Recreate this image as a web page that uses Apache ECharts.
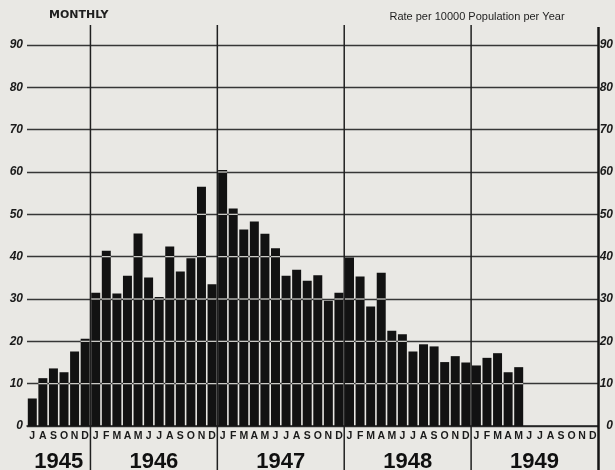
<!DOCTYPE html>
<html>
<head>
<meta charset="utf-8">
<script src="https://cdn.jsdelivr.net/npm/echarts@6/dist/echarts.min.js"></script>
<style>
  html, body { margin: 0; padding: 0; background: #e9e8e4; }
  #chart { width: 615px; height: 470px; }
</style>
</head>
<body>
<div id="chart"></div>
<script>
// Monthly rate per 10000 population per year, July 1945 – December 1949
const years = ['1945', '1946', '1947', '1948', '1949'];
const monthLetters = ['J', 'F', 'M', 'A', 'M', 'J', 'J', 'A', 'S', 'O', 'N', 'D'];
const firstMonth = 6; // series starts in July 1945

const rates = [
  // 1945 (Jul–Dec)
  6.5, 11.3, 13.6, 12.7, 17.6, 20.6,
  // 1946
  31.5, 41.4, 31.3, 35.5, 45.5, 35.1, 30.5, 42.4, 36.5, 39.6, 56.5, 33.5,
  // 1947
  60.5, 51.4, 46.4, 48.3, 45.4, 42.0, 35.5, 36.9, 34.3, 35.6, 29.6, 31.5,
  // 1948
  39.8, 35.3, 28.2, 36.2, 22.5, 21.7, 17.6, 19.3, 18.8, 15.1, 16.5, 15.0,
  // 1949 (Jan–May)
  14.3, 16.1, 17.2, 12.7, 13.9
];

const yTicks = [0, 10, 20, 30, 40, 50, 60, 70, 80, 90];

// Category list: one entry per month, with its letter and year
const categories = [];
const catLetter = [];
years.forEach((y, yi) => {
  for (let m = (yi === 0 ? firstMonth : 0); m < 12; m++) {
    categories.push(monthLetters[m] + ' ' + y + '-' + m);
    catLetter.push(monthLetters[m]);
  }
});
const seriesData = categories.map((c, i) => (i < rates.length ? rates[i] : null));

const INK = '#121212';
const PAPER = '#e9e8e4';

const chart = echarts.init(document.getElementById('chart'), null, { renderer: 'canvas' });

const yLabelStyle = {
  color: '#1a1a1a',
  fontFamily: 'Liberation Sans',
  fontStyle: 'italic',
  fontWeight: 'bold',
  fontSize: 12
};

chart.setOption({
  backgroundColor: PAPER,
  animation: false,
  grid: { left: 27, right: 17, top: 45, bottom: 44, containLabel: false, outerBoundsMode: 'none' },
  xAxis: {
    type: 'category',
    data: categories,
    boundaryGap: true,
    axisLine: { show: true, lineStyle: { color: '#222', width: 1.5 } },
    axisTick: { show: false },
    splitLine: { show: false },
    axisLabel: {
      interval: 0,
      margin: 5,
      color: '#1a1a1a',
      fontFamily: 'Liberation Sans',
      fontWeight: 'bold',
      fontSize: 10.5,
      formatter: (v, i) => catLetter[i]
    }
  },
  yAxis: [
    {
      type: 'value',
      min: yTicks[0],
      max: yTicks[yTicks.length - 1],
      interval: 10,
      position: 'left',
      axisLine: { show: false },
      axisTick: { show: false },
      splitLine: { show: true, lineStyle: { color: '#363636', width: 1.3 } },
      axisLabel: Object.assign({ margin: 4 }, yLabelStyle)
    },
    {
      type: 'value',
      min: yTicks[0],
      max: yTicks[yTicks.length - 1],
      interval: 10,
      position: 'right',
      axisLine: { show: false },
      axisTick: { show: false },
      splitLine: { show: false },
      axisLabel: Object.assign({ margin: 15, align: 'right' }, yLabelStyle)
    }
  ],
  series: [
    {
      type: 'bar',
      data: seriesData,
      barCategoryGap: '15%',
      itemStyle: { color: INK },
      z: 3
    },
    {
      // light rulings that show through the bars at each gridline
      type: 'custom',
      data: seriesData.map((v, i) => [i, v]),
      z: 4,
      silent: true,
      renderItem: (params, api) => {
        const v = api.value(1);
        if (v == null || isNaN(v)) return null;
        const band = api.size([1, 0])[0] * 0.85;
        const children = [];
        for (let k = 10; k < v; k += 10) {
          const p = api.coord([api.value(0), k]);
          children.push({
            type: 'line',
            shape: { x1: p[0] - band / 2, y1: p[1], x2: p[0] + band / 2, y2: p[1] },
            style: { stroke: '#d8d7d3', lineWidth: 1.2 }
          });
        }
        return { type: 'group', children };
      }
    }
  ]
});

// Year dividers, year captions and headings
function decorate() {
  const toX = (i) => chart.convertToPixel({ xAxisIndex: 0 }, i);
  const band = toX(1) - toX(0);
  const bounds = [];
  let idx = 0;
  years.forEach((y, yi) => {
    const n = yi === 0 ? 12 - firstMonth : 12;
    bounds.push([idx, idx + n]);
    idx += n;
  });
  const y90 = chart.convertToPixel({ yAxisIndex: 0 }, 90);
  const y0 = chart.convertToPixel({ yAxisIndex: 0 }, 0);
  const elements = [];
  bounds.forEach((b, yi) => {
    const xStart = toX(b[0]) - band / 2;
    const xEnd = toX(b[1] - 1) + band / 2;
    if (yi > 0) {
      elements.push({
        type: 'line', z: 1, silent: true,
        shape: { x1: xStart, y1: y90 - 20, x2: xStart, y2: 470 },
        style: { stroke: '#202020', lineWidth: 1.5 }
      });
    }
    if (yi === years.length - 1) {
      elements.push({
        type: 'line', z: 10, silent: true,
        shape: { x1: xEnd + 0.5, y1: y90 - 18, x2: xEnd + 0.5, y2: 470 },
        style: { stroke: '#151515', lineWidth: 2.5 }
      });
    }
    elements.push({
      type: 'text', silent: true,
      x: (xStart + xEnd) / 2, y: y0 + 36,
      style: {
        text: years[yi],
        fill: '#101010',
        font: 'bold 22px "Liberation Sans Narrow", "Liberation Sans", sans-serif',
        align: 'center', verticalAlign: 'middle'
      }
    });
  });
  elements.push({
    type: 'text', silent: true, left: 49, top: 10,
    style: { text: 'MONTHLY', fill: '#1e1e1e', font: 'bold 11px "DejaVu Sans", sans-serif' }
  });
  elements.push({
    type: 'text', silent: true, x: 477, y: 17,
    style: {
      text: 'Rate per 10000 Population per Year', fill: '#1e1e1e',
      font: '11px "Liberation Sans", sans-serif', align: 'center', verticalAlign: 'middle'
    }
  });
  chart.setOption({ graphic: { elements } });
}
decorate();
</script>
</body>
</html>
